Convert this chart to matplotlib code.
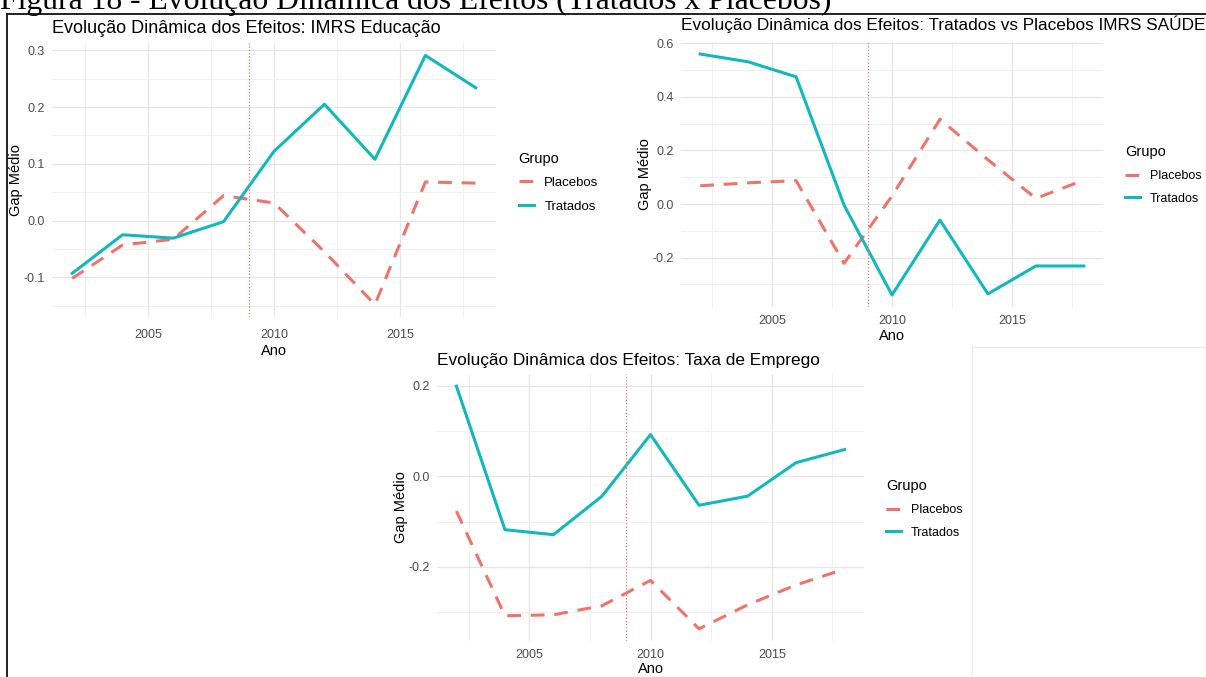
import matplotlib
matplotlib.use("Agg")
import matplotlib.pyplot as plt
from matplotlib.lines import Line2D

W, H = 1206, 677

anos = [2002, 2004, 2006, 2008, 2010, 2012, 2014, 2016, 2018]

# IMRS Educação
edu_placebos = [-0.102, -0.043, -0.033, 0.044, 0.031, -0.055, -0.148, 0.068, 0.066]
edu_tratados = [-0.093, -0.025, -0.031, -0.002, 0.122, 0.205, 0.108, 0.291, 0.234]

# IMRS Saúde
saude_placebos = [0.068, 0.079, 0.087, -0.221, 0.030, 0.316, 0.165, 0.021, 0.089]
saude_tratados = [0.559, 0.530, 0.474, -0.004, -0.339, -0.060, -0.335, -0.231, -0.231]

# Taxa de emprego
emp_placebos = [-0.077, -0.308, -0.306, -0.286, -0.230, -0.337, -0.284, -0.240, -0.205]
emp_tratados = [0.199, -0.118, -0.129, -0.044, 0.092, -0.064, -0.044, 0.030, 0.059]

ano_tratamento = 2009
cores = {"Placebos": "#EE746B", "Tratados": "#12B8BA"}

plt.rcParams["font.family"] = ["Liberation Sans", "DejaVu Sans"]


def px_box(l, t, r, b):
    return [l / W, 1 - b / H, (r - l) / W, (b - t) / H]


def painel(fig, box, titulo, placebos, tratados, yticks, yminor, leg_xy,
           title_size=12.4, title_dy=10, xpad=9, xlabpad=3, leg_size=9):
    ax = fig.add_axes(px_box(*box))
    ax.plot(anos, placebos, color=cores["Placebos"], lw=2.2,
            dashes=(4.5, 3.2), label="Placebos")
    ax.plot(anos, tratados, color=cores["Tratados"], lw=2.2, label="Tratados")
    ax.axvline(ano_tratamento, color="#E8797A", lw=0.9, ls=(0, (1, 1.6)))
    ax.margins(0.05)

    ax.set_xticks([2005, 2010, 2015])
    ax.set_xticks([2002.5, 2007.5, 2012.5, 2017.5], minor=True)
    ax.set_yticks(yticks)
    ax.set_yticks(yminor, minor=True)
    ax.set_yticklabels([f"{v:.1f}" for v in yticks])
    ax.grid(which="major", color="#e6e6e6", lw=0.9)
    ax.grid(which="minor", color="#f0f0f0", lw=0.7)
    ax.set_axisbelow(True)
    for s in ax.spines.values():
        s.set_visible(False)
    ax.tick_params(which="both", length=0, labelsize=9, labelcolor="#4d4d4d")
    ax.tick_params(axis="x", pad=xpad)
    ax.tick_params(axis="y", pad=5)
    ax.set_xlabel("Ano", fontsize=10.5, labelpad=xlabpad)
    ax.set_ylabel("Gap Médio", fontsize=10.5, labelpad=0.5)

    l, t = box[0], box[1]
    fig.text(l / W, 1 - (t - title_dy) / H, titulo, fontsize=title_size,
             va="baseline", ha="left")

    ax.legend(title="Grupo", loc="upper left",
              bbox_to_anchor=(leg_xy[0] / W, 1 - leg_xy[1] / H),
              bbox_transform=fig.transFigure, frameon=False,
              fontsize=leg_size, title_fontsize=10.5, handlelength=1.2,
              handletextpad=0.75, labelspacing=0.85, borderpad=0,
              alignment="left")
    return ax


fig = plt.figure(figsize=(W / 100, H / 100), dpi=100)

painel(fig, (52, 43, 496, 317), "Evolução Dinâmica dos Efeitos: IMRS Educação",
       edu_placebos, edu_tratados, [-0.1, 0.0, 0.1, 0.2, 0.3],
       [-0.15, -0.05, 0.05, 0.15, 0.25], (512, 145),
       title_size=13, title_dy=10, xpad=9, xlabpad=2, leg_size=9.5)

painel(fig, (681, 42, 1103, 307),
       "Evolução Dinâmica dos Efeitos: Tratados vs Placebos IMRS SAÚDE",
       saude_placebos, saude_tratados, [-0.2, 0.0, 0.2, 0.4, 0.6],
       [-0.3, -0.1, 0.1, 0.3, 0.5], (1119, 139),
       title_dy=12, xpad=6, xlabpad=1.5)

painel(fig, (437, 374, 864, 641), "Evolução Dinâmica dos Efeitos: Taxa de Emprego",
       emp_placebos, emp_tratados, [-0.2, 0.0, 0.2],
       [-0.3, -0.1, 0.1], (880, 473),
       title_dy=9, xpad=6, xlabpad=0.5)

# legenda da figura (cortada no topo da página)
fig.text(0.0, 1 - 9 / H, "Figura 18 - Evolução Dinâmica dos Efeitos (Tratados x Placebos)",
         family=["Liberation Serif"], fontsize=22.8, va="baseline", ha="left")

# moldura da figura
fig.add_artist(Line2D([7 / W, 7 / W], [0, 1 - 14 / H], color="#222222", lw=1.4,
                      transform=fig.transFigure))
fig.add_artist(Line2D([7 / W, 1], [1 - 14 / H, 1 - 14 / H], color="#222222", lw=1.4,
                      transform=fig.transFigure))

# bordas claras das imagens coladas
fig.add_artist(Line2D([972 / W, 972 / W], [0, 1 - 347 / H], color="#ebebeb", lw=0.8,
                      transform=fig.transFigure))
fig.add_artist(Line2D([972 / W, 1], [1 - 347 / H, 1 - 347 / H], color="#ebebeb", lw=0.8,
                      transform=fig.transFigure))

fig.savefig("out.png", dpi=100)
